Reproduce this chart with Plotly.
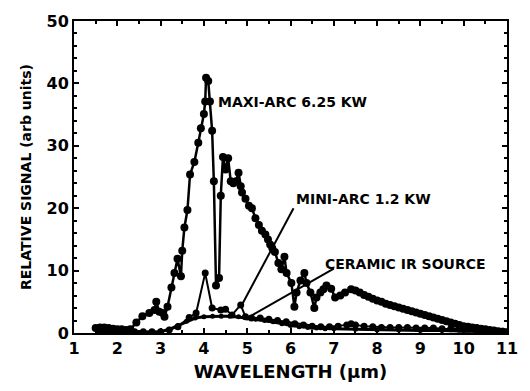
import plotly.graph_objects as go

# ---- data ----
maxi_x = [1.5, 1.6, 1.7, 1.8, 1.9, 2.0, 2.1, 2.2, 2.3, 2.44, 2.58, 2.74, 2.86, 2.9, 2.97, 3.05, 3.09,
          3.16, 3.25, 3.32, 3.39, 3.47, 3.5, 3.55, 3.62, 3.68, 3.78, 3.87, 3.93, 4.0, 4.03, 4.05,
          4.1, 4.14, 4.19, 4.23, 4.28, 4.35, 4.39, 4.44, 4.5, 4.56, 4.62, 4.68, 4.74, 4.8, 4.85,
          4.88, 4.96, 5.04, 5.11, 5.19, 5.27, 5.34, 5.42, 5.48, 5.53, 5.58, 5.64, 5.72, 5.79, 5.86,
          5.91, 6.02, 6.09, 6.14, 6.23, 6.32, 6.37, 6.46, 6.55, 6.6, 6.69, 6.76, 6.83, 6.94, 7.03,
          7.15, 7.26, 7.4, 7.5, 7.6, 7.7, 7.8, 7.9, 8.0, 8.1, 8.2, 8.3, 8.4, 8.5, 8.6, 8.7, 8.8,
          8.9, 9.0, 9.1, 9.2, 9.3, 9.4, 9.5, 9.6, 9.7, 9.8, 9.9, 10.0, 10.1, 10.2, 10.3, 10.4,
          10.5, 10.6, 10.7, 10.8, 10.9, 11.0]
maxi_y = [0.8, 0.9, 0.9, 0.8, 0.7, 0.6, 0.6, 0.5, 0.6, 1.7, 2.7, 3.2, 3.7, 5.0, 3.4, 3.2, 2.6,
          4.2, 7.3, 9.6, 11.9, 9.1, 13.2, 16.9, 19.7, 25.4, 27.4, 30.5, 32.8, 35.1, 37.1, 40.9,
          40.4, 37.1, 32.4, 24.3, 7.6, 8.8, 22.0, 28.2, 26.2, 28.0, 24.3, 24.0, 24.3, 25.7, 23.5,
          22.5, 21.5, 20.4, 20.0, 18.4, 17.3, 16.4, 15.8, 15.0, 14.2, 13.6, 13.0, 11.2, 10.2, 12.2,
          9.6, 8.0, 4.2, 6.5, 8.4, 9.6, 8.0, 6.5, 4.0, 5.7, 6.5, 7.0, 7.6, 7.1, 5.7,
          6.0, 6.5, 7.0, 6.8, 6.5, 6.1, 5.8, 5.5, 5.2, 5.0, 4.7, 4.5, 4.3, 4.1, 3.9, 3.7, 3.5,
          3.3, 3.1, 2.9, 2.7, 2.5, 2.3, 2.1, 1.9, 1.7, 1.5, 1.3, 1.1, 1.0, 0.9, 0.8, 0.7,
          0.6, 0.5, 0.4, 0.3, 0.2, 0.1]

mini_x = [1.6, 1.8, 2.0, 2.2, 2.4, 2.6, 2.8, 3.0, 3.2, 3.4, 3.66, 3.82, 4.03, 4.19, 4.39, 4.5,
          4.65, 4.85, 4.96, 5.1, 5.3, 5.5, 5.7, 5.9, 6.1, 6.3, 6.5, 6.7, 6.9, 7.1, 7.3, 7.4, 7.5,
          7.7, 7.9, 8.1, 8.3, 8.5, 8.7, 8.9, 9.1, 9.3, 9.5, 9.7, 9.9, 10.1, 10.3, 10.5, 10.7,
          10.9, 11.0]
mini_y = [0.4, 0.4, 0.3, 0.2, 0.2, 0.2, 0.2, 0.2, 0.5, 1.0, 2.5, 3.2, 9.6, 4.0, 3.7, 3.8,
          2.9, 4.5, 2.6, 2.4, 2.4, 2.2, 2.0, 1.8, 1.5, 1.3, 1.1, 1.0, 1.0, 1.1, 1.3, 1.5, 1.3,
          1.1, 1.0, 0.9, 0.9, 0.9, 0.9, 0.8, 0.8, 0.8, 0.7, 0.7, 0.6, 0.6, 0.5, 0.5, 0.4,
          0.3, 0.2]

ceramic_x = [1.6, 2.0, 2.4, 2.8, 3.0, 3.2, 3.4, 3.6, 3.8, 4.0, 4.2, 4.4, 4.6, 4.8, 5.0, 5.2,
             5.4, 5.6, 5.8, 6.0, 6.2, 6.4, 6.6, 6.8, 7.0, 7.5, 8.0, 8.5, 9.0, 9.5, 10.0, 10.5, 11.0]
ceramic_y = [0.1, 0.1, 0.1, 0.1, 0.2, 0.6, 1.2, 1.9, 2.4, 2.6, 2.7, 2.7, 2.7, 2.6, 2.4, 2.2,
             2.0, 1.8, 1.5, 1.2, 1.0, 0.9, 0.8, 0.7, 0.7, 0.6, 0.5, 0.5, 0.4, 0.4, 0.3, 0.2, 0.1]

labels = ["MAXI-ARC 6.25 KW", "MINI-ARC 1.2 KW", "CERAMIC IR SOURCE"]
label_x = [4.28, 6.07, 6.76]
label_y = [37.0, 21.5, 11.0]
pointer_from = [None, (6.07, 20.0), (7.0, 10.3)]
pointer_to = [None, (4.9, 4.8), (5.0, 2.4)]

x_ticks = list(range(1, 12))
y_ticks = [0, 10, 20, 30, 40, 50]

FONT = "DejaVu Sans"

fig = go.Figure()
fig.add_trace(go.Scatter(x=ceramic_x, y=ceramic_y, mode="lines+markers",
                         line=dict(color="black", width=3), marker=dict(color="black", size=5)))
fig.add_trace(go.Scatter(x=mini_x, y=mini_y, mode="lines+markers",
                         line=dict(color="black", width=2), marker=dict(color="black", size=7)))
fig.add_trace(go.Scatter(x=maxi_x, y=maxi_y, mode="lines+markers",
                         line=dict(color="black", width=2.5), marker=dict(color="black", size=8)))

for t, lx, ly, pf, pt in zip(labels, label_x, label_y, pointer_from, pointer_to):
    fig.add_annotation(x=lx, y=ly, text=t, showarrow=False, xanchor="left", yanchor="middle",
                       font=dict(family=FONT, size=14, color="black", weight="bold"))
    if pf is not None:
        fig.add_shape(type="line", x0=pf[0], y0=pf[1], x1=pt[0], y1=pt[1],
                      line=dict(color="black", width=2))

axis_common = dict(showline=True, linecolor="black", linewidth=2, mirror="ticks",
                   ticks="inside", tickcolor="black", showgrid=False, zeroline=False,
                   tickfont=dict(family=FONT, size=16, color="black", weight="bold"))

fig.update_xaxes(range=[1, 11], tickvals=x_ticks, ticklen=5, tickwidth=1.5,
                 minor=dict(dtick=0.5, ticks="inside", ticklen=3, tickcolor="black"),
                 title=dict(text="WAVELENGTH (µm)", standoff=8,
                            font=dict(family=FONT, size=18, color="black", weight="bold")),
                 **axis_common)
fig.update_yaxes(range=[0, 50], tickvals=y_ticks, ticklen=5, tickwidth=1.5,
                 minor=dict(dtick=2, ticks="inside", ticklen=3, tickcolor="black"),
                 title=dict(text="RELATIVE SIGNAL (arb units)", standoff=12,
                            font=dict(family=FONT, size=14, color="black", weight="bold")),
                 **axis_common)

fig.update_layout(width=530, height=391, margin=dict(l=74, r=19, t=16, b=52),
                  plot_bgcolor="white", paper_bgcolor="white", showlegend=False)

fig.write_html("out.html")
